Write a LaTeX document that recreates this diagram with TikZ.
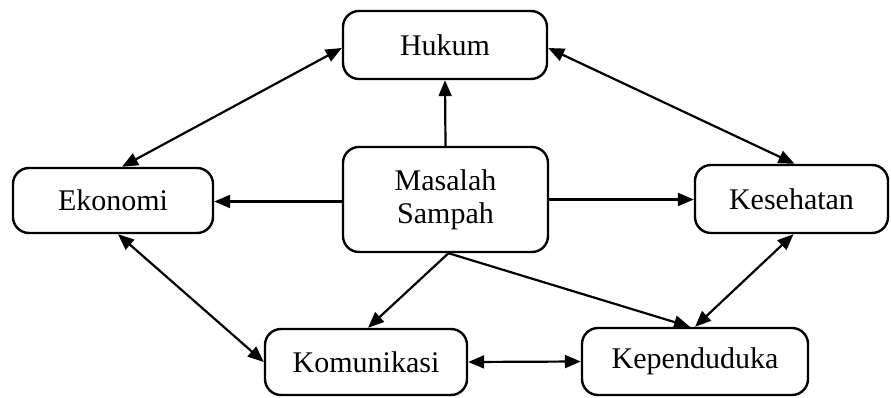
\documentclass[tikz,border=0pt]{standalone}
\usepackage{fontspec}
\setmainfont{Liberation Serif}
\usetikzlibrary{arrows.meta}
\begin{document}
\begin{tikzpicture}[x=1pt,y=-1pt,
  box/.style={draw=black, line width=2.4pt, rounded corners=16pt, fill=white,
    inner sep=0pt, align=center, font=\fontsize{30}{33}\selectfont},
  link/.style={line width=2.2pt, -{Triangle[length=16pt,width=13pt]}},
  both/.style={line width=2.2pt, {Triangle[length=16pt,width=13pt]}-{Triangle[length=16pt,width=13pt]}}]
\useasboundingbox (0,0) rectangle (891,398);

% topic boxes
\node[box, minimum width=204pt, minimum height=68pt] (hukum) at (445,45) {Hukum};
\node[box, minimum width=205pt, minimum height=105pt] (masalah) at (445.5,199.5) {Masalah\\Sampah};
\node[box, minimum width=200pt, minimum height=65pt] (ekonomi) at (113,200.5) {Ekonomi};
\node[box, minimum width=193pt, minimum height=68pt] (kesehatan) at (791.5,199) {Kesehatan};
\node[box, minimum width=202pt, minimum height=66pt] (komunikasi) at (366,362) {Komunikasi};
\node[box, minimum width=226pt, minimum height=67pt] (kependuduka) at (695,361.5) {Kependuduka};

% links from the central problem
\draw[link] (masalah.north) -- (hukum.south);
\draw[link] ([yshift=-2pt]masalah.west) -- ([yshift=-2pt]masalah.west -| ekonomi.east);
\draw[link] (masalah.east) -- (masalah.east -| kesehatan.west);
\draw[link] ([xshift=3pt]masalah.south) -- ([xshift=2pt]komunikasi.north);
\draw[link] ([xshift=3pt]masalah.south) -- ([xshift=-5pt]kependuduka.north);

% mutual links around the ring
\draw[both] ([yshift=-3pt]hukum.west) -- ([xshift=9pt]ekonomi.north);
\draw[both] ([yshift=-3pt]hukum.east) -- ([xshift=3pt]kesehatan.north);
\draw[both] ([xshift=5pt]ekonomi.south) -- (komunikasi.west);
\draw[both] ([xshift=2pt]kesehatan.south) -- (kependuduka.north);
\draw[both] (komunikasi.east) -- (kependuduka.west);
\end{tikzpicture}
\end{document}
